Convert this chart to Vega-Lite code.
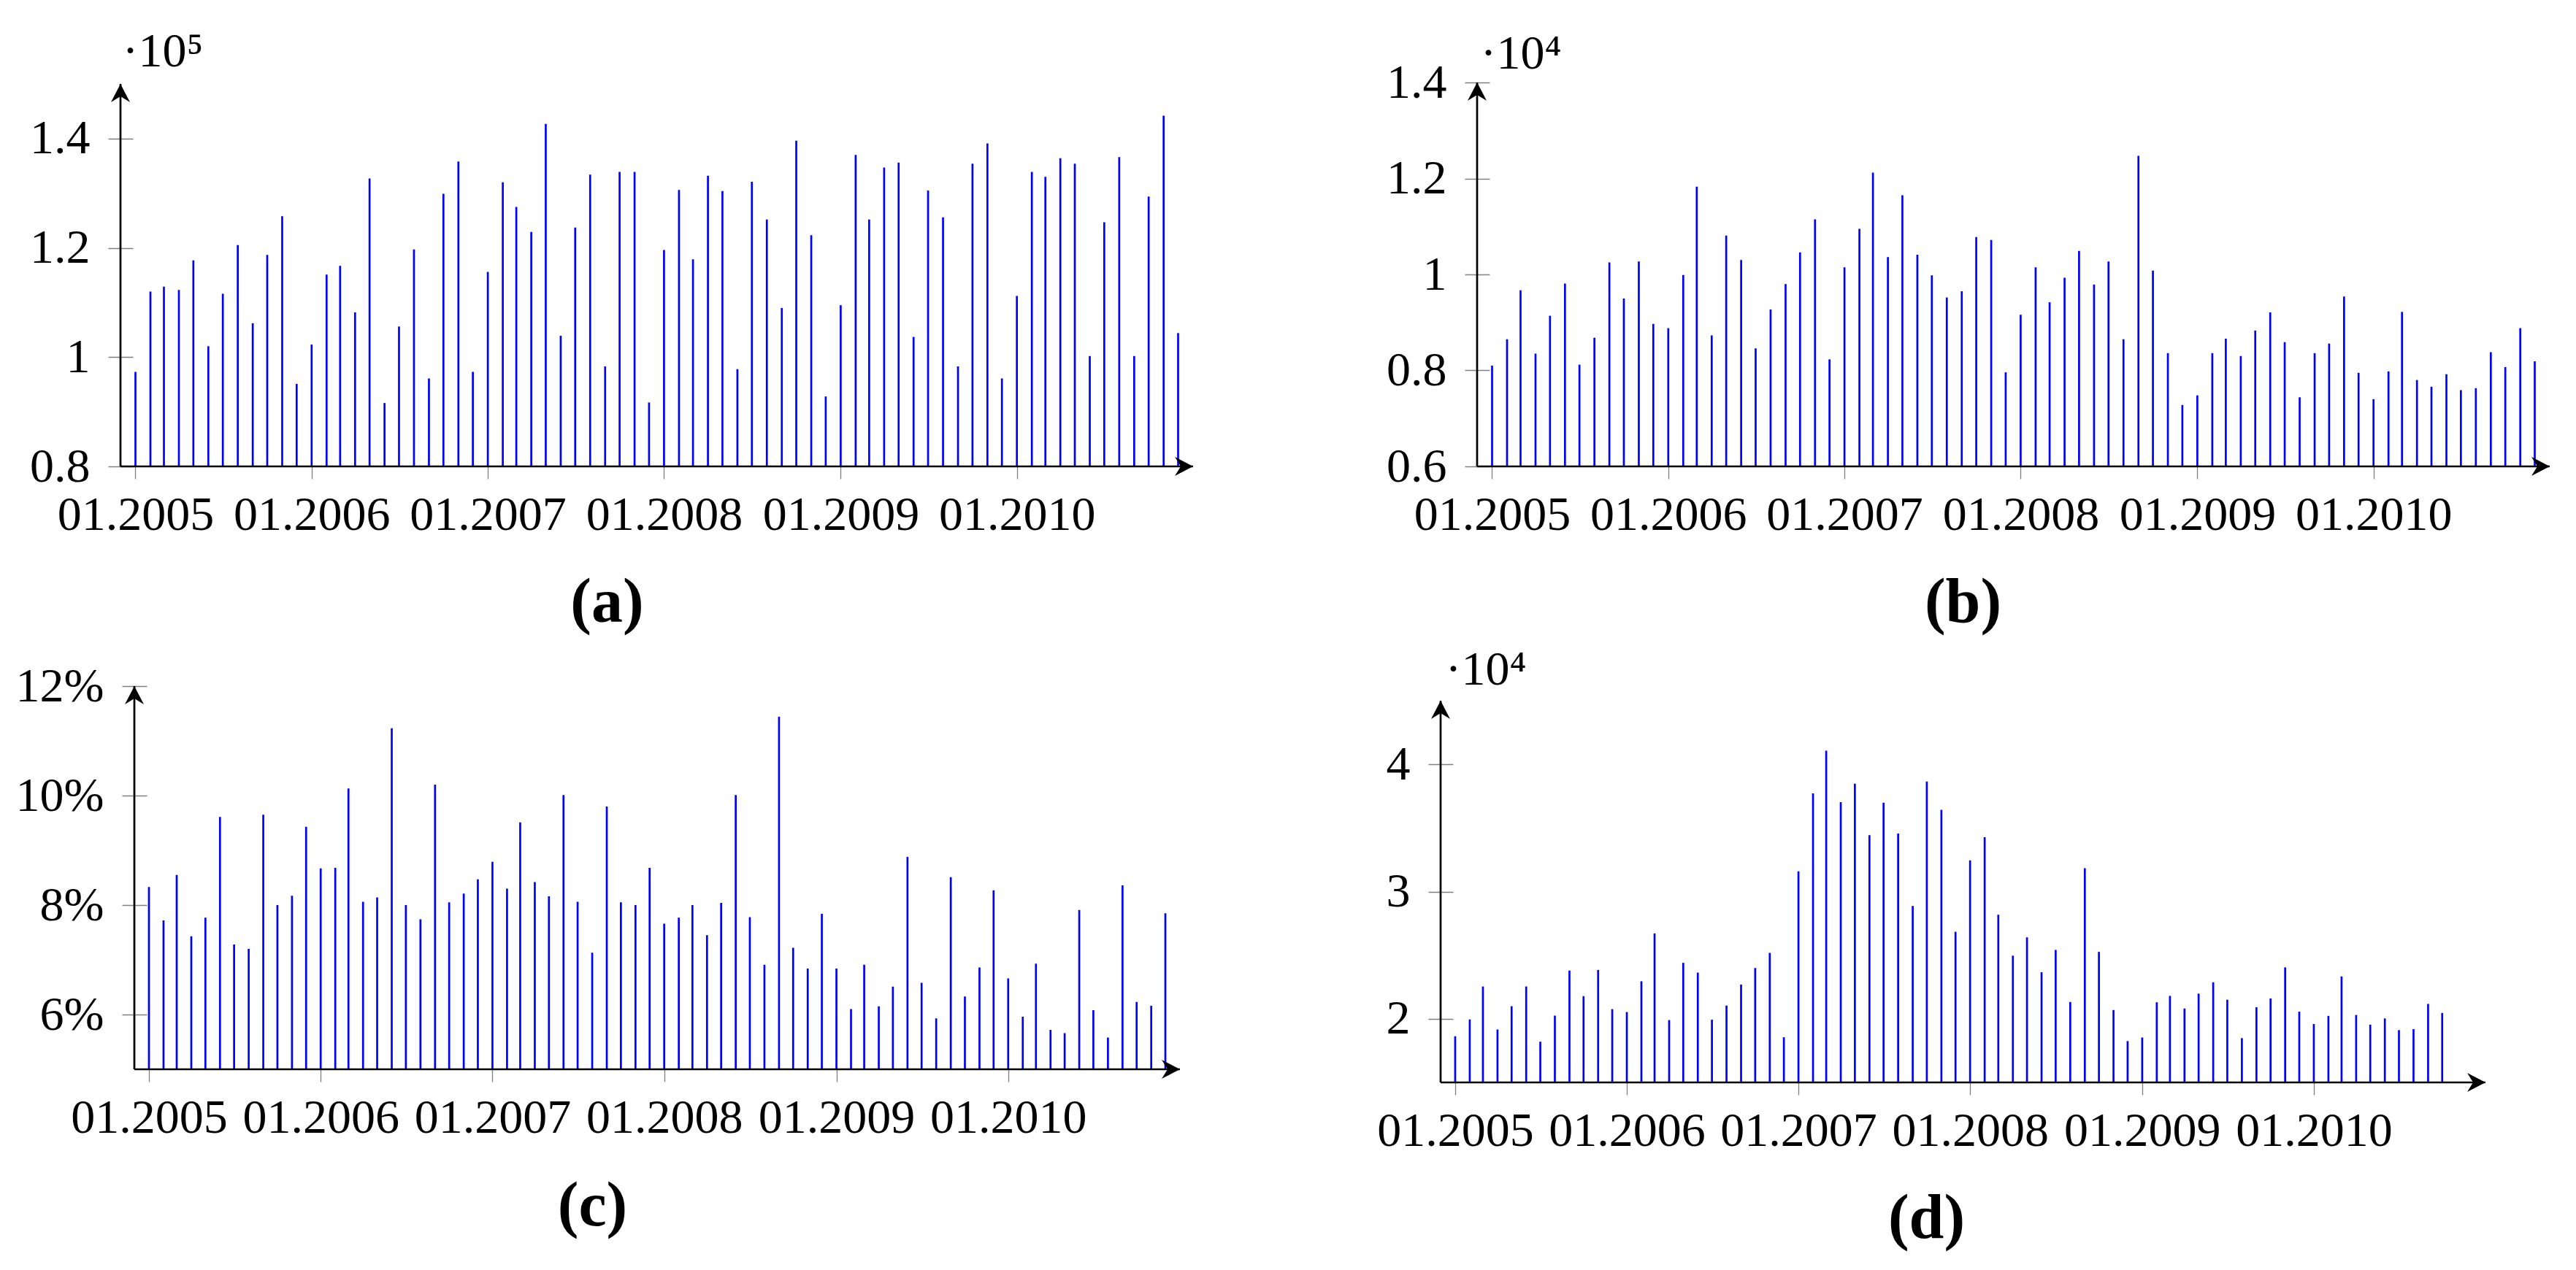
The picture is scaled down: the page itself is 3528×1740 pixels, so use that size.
{
  "$schema": "https://vega.github.io/schema/vega-lite/v6.json",
  "background": "white",
  "padding": {"left": 21, "top": 37, "right": 10, "bottom": 10},
  "data": {"values": [
    {"date": "2005-01-01", "a": 0.973, "b": 0.810, "c": 8.33, "d": 1.863},
    {"date": "2005-02-01", "a": 1.120, "b": 0.865, "c": 7.72, "d": 1.995},
    {"date": "2005-03-01", "a": 1.129, "b": 0.967, "c": 8.55, "d": 2.254},
    {"date": "2005-04-01", "a": 1.123, "b": 0.835, "c": 7.43, "d": 1.916},
    {"date": "2005-05-01", "a": 1.177, "b": 0.914, "c": 7.77, "d": 2.099},
    {"date": "2005-06-01", "a": 1.020, "b": 0.981, "c": 9.61, "d": 2.254},
    {"date": "2005-07-01", "a": 1.116, "b": 0.812, "c": 7.28, "d": 1.820},
    {"date": "2005-08-01", "a": 1.205, "b": 0.868, "c": 7.20, "d": 2.025},
    {"date": "2005-09-01", "a": 1.062, "b": 1.025, "c": 9.65, "d": 2.379},
    {"date": "2005-10-01", "a": 1.187, "b": 0.950, "c": 8.00, "d": 2.178},
    {"date": "2005-11-01", "a": 1.258, "b": 1.027, "c": 8.17, "d": 2.384},
    {"date": "2005-12-01", "a": 0.951, "b": 0.897, "c": 9.43, "d": 2.076},
    {"date": "2006-01-01", "a": 1.023, "b": 0.888, "c": 8.67, "d": 2.053},
    {"date": "2006-02-01", "a": 1.151, "b": 0.999, "c": 8.68, "d": 2.295},
    {"date": "2006-03-01", "a": 1.167, "b": 1.183, "c": 10.13, "d": 2.671},
    {"date": "2006-04-01", "a": 1.082, "b": 0.873, "c": 8.06, "d": 1.990},
    {"date": "2006-05-01", "a": 1.327, "b": 1.081, "c": 8.14, "d": 2.440},
    {"date": "2006-06-01", "a": 0.916, "b": 1.030, "c": 11.23, "d": 2.363},
    {"date": "2006-07-01", "a": 1.056, "b": 0.846, "c": 8.00, "d": 1.993},
    {"date": "2006-08-01", "a": 1.197, "b": 0.927, "c": 7.74, "d": 2.104},
    {"date": "2006-09-01", "a": 0.961, "b": 0.980, "c": 10.20, "d": 2.269},
    {"date": "2006-10-01", "a": 1.299, "b": 1.046, "c": 8.05, "d": 2.399},
    {"date": "2006-11-01", "a": 1.358, "b": 1.115, "c": 8.21, "d": 2.518},
    {"date": "2006-12-01", "a": 0.973, "b": 0.823, "c": 8.47, "d": 1.855},
    {"date": "2007-01-01", "a": 1.156, "b": 1.015, "c": 8.79, "d": 3.159},
    {"date": "2007-02-01", "a": 1.320, "b": 1.095, "c": 8.30, "d": 3.771},
    {"date": "2007-03-01", "a": 1.275, "b": 1.212, "c": 9.51, "d": 4.107},
    {"date": "2007-04-01", "a": 1.229, "b": 1.036, "c": 8.42, "d": 3.703},
    {"date": "2007-05-01", "a": 1.427, "b": 1.165, "c": 8.16, "d": 3.848},
    {"date": "2007-06-01", "a": 1.039, "b": 1.041, "c": 10.01, "d": 3.443},
    {"date": "2007-07-01", "a": 1.237, "b": 0.998, "c": 8.06, "d": 3.698},
    {"date": "2007-08-01", "a": 1.334, "b": 0.952, "c": 7.13, "d": 3.456},
    {"date": "2007-09-01", "a": 0.983, "b": 0.965, "c": 9.80, "d": 2.887},
    {"date": "2007-10-01", "a": 1.339, "b": 1.078, "c": 8.05, "d": 3.865},
    {"date": "2007-11-01", "a": 1.339, "b": 1.072, "c": 8.00, "d": 3.642},
    {"date": "2007-12-01", "a": 0.917, "b": 0.796, "c": 8.68, "d": 2.684},
    {"date": "2008-01-01", "a": 1.196, "b": 0.916, "c": 7.66, "d": 3.245},
    {"date": "2008-02-01", "a": 1.306, "b": 1.015, "c": 7.77, "d": 3.428},
    {"date": "2008-03-01", "a": 1.179, "b": 0.942, "c": 8.00, "d": 2.818},
    {"date": "2008-04-01", "a": 1.332, "b": 0.993, "c": 7.45, "d": 2.496},
    {"date": "2008-05-01", "a": 1.304, "b": 1.049, "c": 8.04, "d": 2.640},
    {"date": "2008-06-01", "a": 0.978, "b": 0.979, "c": 10.01, "d": 2.366},
    {"date": "2008-07-01", "a": 1.321, "b": 1.027, "c": 7.78, "d": 2.541},
    {"date": "2008-08-01", "a": 1.252, "b": 0.865, "c": 6.91, "d": 2.132},
    {"date": "2008-09-01", "a": 1.090, "b": 1.247, "c": 11.44, "d": 3.184},
    {"date": "2008-10-01", "a": 1.396, "b": 1.008, "c": 7.22, "d": 2.526},
    {"date": "2008-11-01", "a": 1.223, "b": 0.836, "c": 6.84, "d": 2.069},
    {"date": "2008-12-01", "a": 0.928, "b": 0.728, "c": 7.84, "d": 1.825},
    {"date": "2009-01-01", "a": 1.095, "b": 0.748, "c": 6.84, "d": 1.853},
    {"date": "2009-02-01", "a": 1.370, "b": 0.836, "c": 6.10, "d": 2.130},
    {"date": "2009-03-01", "a": 1.252, "b": 0.866, "c": 6.91, "d": 2.180},
    {"date": "2009-04-01", "a": 1.347, "b": 0.830, "c": 6.15, "d": 2.081},
    {"date": "2009-05-01", "a": 1.356, "b": 0.883, "c": 6.51, "d": 2.198},
    {"date": "2009-06-01", "a": 1.037, "b": 0.921, "c": 8.88, "d": 2.287},
    {"date": "2009-07-01", "a": 1.305, "b": 0.859, "c": 6.58, "d": 2.150},
    {"date": "2009-08-01", "a": 1.256, "b": 0.744, "c": 5.93, "d": 1.848},
    {"date": "2009-09-01", "a": 0.983, "b": 0.836, "c": 8.51, "d": 2.091},
    {"date": "2009-10-01", "a": 1.354, "b": 0.856, "c": 6.33, "d": 2.160},
    {"date": "2009-11-01", "a": 1.391, "b": 0.954, "c": 6.86, "d": 2.404},
    {"date": "2009-12-01", "a": 0.961, "b": 0.795, "c": 8.27, "d": 2.056},
    {"date": "2010-01-01", "a": 1.112, "b": 0.740, "c": 6.66, "d": 1.959},
    {"date": "2010-02-01", "a": 1.339, "b": 0.798, "c": 5.96, "d": 2.023},
    {"date": "2010-03-01", "a": 1.330, "b": 0.922, "c": 6.93, "d": 2.333},
    {"date": "2010-04-01", "a": 1.364, "b": 0.780, "c": 5.72, "d": 2.030},
    {"date": "2010-05-01", "a": 1.354, "b": 0.766, "c": 5.66, "d": 1.954},
    {"date": "2010-06-01", "a": 1.002, "b": 0.792, "c": 7.91, "d": 2.003},
    {"date": "2010-07-01", "a": 1.247, "b": 0.759, "c": 6.08, "d": 1.911},
    {"date": "2010-08-01", "a": 1.366, "b": 0.763, "c": 5.58, "d": 1.919},
    {"date": "2010-09-01", "a": 1.002, "b": 0.838, "c": 8.36, "d": 2.117},
    {"date": "2010-10-01", "a": 1.294, "b": 0.807, "c": 6.23, "d": 2.046},
    {"date": "2010-11-01", "a": 1.442, "b": 0.888, "c": 6.16, "d": null},
    {"date": "2010-12-01", "a": 1.044, "b": 0.819, "c": 7.85, "d": null}
  ]},
  "columns": 2,
  "align": "each",
  "bounds": "flush",
  "spacing": {"row": 301, "column": 339},
  "concat": [
    {
      "width": 1469, "height": 526,
      "layer": [
        {
          "mark": {"type": "rule", "color": "#0000ff", "strokeWidth": 2.7},
          "encoding": {
            "x": {"field": "date", "type": "temporal",
              "scale": {"type": "utc", "nice": false, "domain": [{"year": 2004, "month": 12, "date": 1, "utc": true}, {"year": 2011, "month": 1, "date": 1, "utc": true}]},
              "axis": {"values": [{"year": 2005, "month": 1, "date": 1, "utc": true}, {"year": 2006, "month": 1, "date": 1, "utc": true}, {"year": 2007, "month": 1, "date": 1, "utc": true}, {"year": 2008, "month": 1, "date": 1, "utc": true}, {"year": 2009, "month": 1, "date": 1, "utc": true}, {"year": 2010, "month": 1, "date": 1, "utc": true}],
                "format": "%m.%Y", "title": "(a)", "titleX": 666, "titleY": 212}},
            "y": {"field": "a", "type": "quantitative",
              "scale": {"domain": [0.8, 1.5], "nice": false, "zero": false, "range": [526, 2]},
              "axis": {"values": [0.8, 1, 1.2, 1.4], "format": "~g", "offset": -17, "title": "·10⁵", "titleX": -15, "titleY": -23}},
            "y2": {"datum": 0.8}
          }
        },
        {
          "data": {"values": [{}]},
          "mark": {"type": "rule", "color": "black", "strokeWidth": 2.7},
          "encoding": {
            "x": {"datum": {"year": 2004, "month": 12, "date": 1, "utc": true}, "type": "temporal"},
            "y": {"datum": 0.8}, "y2": {"datum": 1.5}
          }
        },
        {
          "data": {"values": [{}]},
          "mark": {"type": "rule", "color": "black", "strokeWidth": 2.7},
          "encoding": {
            "x": {"datum": {"year": 2004, "month": 12, "date": 1, "utc": true}, "type": "temporal"},
            "x2": {"datum": {"year": 2011, "month": 1, "date": 1, "utc": true}},
            "y": {"datum": 0.8}
          }
        },
        {
          "data": {"values": [{}]},
          "mark": {"type": "point", "shape": "M0,0 L0.5,0.96 L0,0.65 L-0.5,0.96 Z", "filled": true, "color": "black", "opacity": 1, "size": 2704, "strokeWidth": 0},
          "encoding": {
            "x": {"datum": {"year": 2004, "month": 12, "date": 1, "utc": true}, "type": "temporal"},
            "y": {"datum": 1.5}
          }
        },
        {
          "data": {"values": [{}]},
          "mark": {"type": "point", "shape": "M0,0 L-0.96,-0.5 L-0.65,0 L-0.96,0.5 Z", "filled": true, "color": "black", "opacity": 1, "size": 2704, "strokeWidth": 0},
          "encoding": {
            "x": {"datum": {"year": 2011, "month": 1, "date": 1, "utc": true}, "type": "temporal"},
            "y": {"datum": 0.8}
          }
        }
      ]
    },
    {
      "width": 1519, "height": 526,
      "layer": [
        {
          "mark": {"type": "rule", "color": "#0000ff", "strokeWidth": 2.7},
          "encoding": {
            "x": {"field": "date", "type": "temporal",
              "scale": {"type": "utc", "nice": false, "domain": [{"year": 2004, "month": 12, "date": 1, "utc": true}, {"year": 2011, "month": 1, "date": 1, "utc": true}], "range": [50, 1519]},
              "axis": {"values": [{"year": 2005, "month": 1, "date": 1, "utc": true}, {"year": 2006, "month": 1, "date": 1, "utc": true}, {"year": 2007, "month": 1, "date": 1, "utc": true}, {"year": 2008, "month": 1, "date": 1, "utc": true}, {"year": 2009, "month": 1, "date": 1, "utc": true}, {"year": 2010, "month": 1, "date": 1, "utc": true}],
                "format": "%m.%Y", "title": "(b)", "titleX": 715, "titleY": 212}},
            "y": {"field": "b", "type": "quantitative",
              "scale": {"domain": [0.6, 1.4], "nice": false, "zero": false},
              "axis": {"values": [0.6, 0.8, 1, 1.2, 1.4], "format": "~g", "offset": -67, "title": "·10⁴", "titleX": -13, "titleY": -20}},
            "y2": {"datum": 0.6}
          }
        },
        {
          "data": {"values": [{}]},
          "mark": {"type": "rule", "color": "black", "strokeWidth": 2.7},
          "encoding": {
            "x": {"datum": {"year": 2004, "month": 12, "date": 1, "utc": true}, "type": "temporal"},
            "y": {"datum": 0.6}, "y2": {"datum": 1.4}
          }
        },
        {
          "data": {"values": [{}]},
          "mark": {"type": "rule", "color": "black", "strokeWidth": 2.7},
          "encoding": {
            "x": {"datum": {"year": 2004, "month": 12, "date": 1, "utc": true}, "type": "temporal"},
            "x2": {"datum": {"year": 2011, "month": 1, "date": 1, "utc": true}},
            "y": {"datum": 0.6}
          }
        },
        {
          "data": {"values": [{}]},
          "mark": {"type": "point", "shape": "M0,0 L0.5,0.96 L0,0.65 L-0.5,0.96 Z", "filled": true, "color": "black", "opacity": 1, "size": 2704, "strokeWidth": 0},
          "encoding": {
            "x": {"datum": {"year": 2004, "month": 12, "date": 1, "utc": true}, "type": "temporal"},
            "y": {"datum": 1.4}
          }
        },
        {
          "data": {"values": [{}]},
          "mark": {"type": "point", "shape": "M0,0 L-0.96,-0.5 L-0.65,0 L-0.96,0.5 Z", "filled": true, "color": "black", "opacity": 1, "size": 2704, "strokeWidth": 0},
          "encoding": {
            "x": {"datum": {"year": 2011, "month": 1, "date": 1, "utc": true}, "type": "temporal"},
            "y": {"datum": 0.6}
          }
        }
      ]
    },
    {
      "width": 1451, "height": 525,
      "layer": [
        {
          "mark": {"type": "rule", "color": "#0000ff", "strokeWidth": 2.7},
          "encoding": {
            "x": {"field": "date", "type": "temporal",
              "scale": {"type": "utc", "nice": false, "domain": [{"year": 2004, "month": 12, "date": 1, "utc": true}, {"year": 2011, "month": 1, "date": 1, "utc": true}], "range": [19, 1451]},
              "axis": {"values": [{"year": 2005, "month": 1, "date": 1, "utc": true}, {"year": 2006, "month": 1, "date": 1, "utc": true}, {"year": 2007, "month": 1, "date": 1, "utc": true}, {"year": 2008, "month": 1, "date": 1, "utc": true}, {"year": 2009, "month": 1, "date": 1, "utc": true}, {"year": 2010, "month": 1, "date": 1, "utc": true}],
                "format": "%m.%Y", "title": "(c)", "titleX": 646, "titleY": 213}},
            "y": {"field": "c", "type": "quantitative",
              "scale": {"domain": [5, 12], "nice": false, "zero": false},
              "axis": {"values": [6, 8, 10, 12], "labelExpr": "datum.value + '%'", "offset": -36, "title": null}},
            "y2": {"datum": 5}
          }
        },
        {
          "data": {"values": [{}]},
          "mark": {"type": "rule", "color": "black", "strokeWidth": 2.7},
          "encoding": {
            "x": {"datum": {"year": 2004, "month": 12, "date": 1, "utc": true}, "type": "temporal"},
            "y": {"datum": 5}, "y2": {"datum": 12}
          }
        },
        {
          "data": {"values": [{}]},
          "mark": {"type": "rule", "color": "black", "strokeWidth": 2.7},
          "encoding": {
            "x": {"datum": {"year": 2004, "month": 12, "date": 1, "utc": true}, "type": "temporal"},
            "x2": {"datum": {"year": 2011, "month": 1, "date": 1, "utc": true}},
            "y": {"datum": 5}
          }
        },
        {
          "data": {"values": [{}]},
          "mark": {"type": "point", "shape": "M0,0 L0.5,0.96 L0,0.65 L-0.5,0.96 Z", "filled": true, "color": "black", "opacity": 1, "size": 2704, "strokeWidth": 0},
          "encoding": {
            "x": {"datum": {"year": 2004, "month": 12, "date": 1, "utc": true}, "type": "temporal"},
            "y": {"datum": 12}
          }
        },
        {
          "data": {"values": [{}]},
          "mark": {"type": "point", "shape": "M0,0 L-0.96,-0.5 L-0.65,0 L-0.96,0.5 Z", "filled": true, "color": "black", "opacity": 1, "size": 2704, "strokeWidth": 0},
          "encoding": {
            "x": {"datum": {"year": 2011, "month": 1, "date": 1, "utc": true}, "type": "temporal"},
            "y": {"datum": 5}
          }
        }
      ]
    },
    {
      "width": 1431, "height": 543,
      "layer": [
        {
          "mark": {"type": "rule", "color": "#0000ff", "strokeWidth": 2.7},
          "encoding": {
            "x": {"field": "date", "type": "temporal",
              "scale": {"type": "utc", "nice": false, "domain": [{"year": 2004, "month": 12, "date": 1, "utc": true}, {"year": 2011, "month": 1, "date": 1, "utc": true}]},
              "axis": {"values": [{"year": 2005, "month": 1, "date": 1, "utc": true}, {"year": 2006, "month": 1, "date": 1, "utc": true}, {"year": 2007, "month": 1, "date": 1, "utc": true}, {"year": 2008, "month": 1, "date": 1, "utc": true}, {"year": 2009, "month": 1, "date": 1, "utc": true}, {"year": 2010, "month": 1, "date": 1, "utc": true}],
                "format": "%m.%Y", "title": "(d)", "titleX": 665, "titleY": 212}},
            "y": {"field": "d", "type": "quantitative",
              "scale": {"domain": [1.5, 4.5], "nice": false, "zero": false, "range": [543, 20]},
              "axis": {"values": [2, 3, 4], "format": "~g", "offset": -17, "title": "·10⁴", "titleX": -11, "titleY": -3}},
            "y2": {"datum": 1.5}
          }
        },
        {
          "data": {"values": [{}]},
          "mark": {"type": "rule", "color": "black", "strokeWidth": 2.7},
          "encoding": {
            "x": {"datum": {"year": 2004, "month": 12, "date": 1, "utc": true}, "type": "temporal"},
            "y": {"datum": 1.5}, "y2": {"datum": 4.5}
          }
        },
        {
          "data": {"values": [{}]},
          "mark": {"type": "rule", "color": "black", "strokeWidth": 2.7},
          "encoding": {
            "x": {"datum": {"year": 2004, "month": 12, "date": 1, "utc": true}, "type": "temporal"},
            "x2": {"datum": {"year": 2011, "month": 1, "date": 1, "utc": true}},
            "y": {"datum": 1.5}
          }
        },
        {
          "data": {"values": [{}]},
          "mark": {"type": "point", "shape": "M0,0 L0.5,0.96 L0,0.65 L-0.5,0.96 Z", "filled": true, "color": "black", "opacity": 1, "size": 2704, "strokeWidth": 0},
          "encoding": {
            "x": {"datum": {"year": 2004, "month": 12, "date": 1, "utc": true}, "type": "temporal"},
            "y": {"datum": 4.5}
          }
        },
        {
          "data": {"values": [{}]},
          "mark": {"type": "point", "shape": "M0,0 L-0.96,-0.5 L-0.65,0 L-0.96,0.5 Z", "filled": true, "color": "black", "opacity": 1, "size": 2704, "strokeWidth": 0},
          "encoding": {
            "x": {"datum": {"year": 2011, "month": 1, "date": 1, "utc": true}, "type": "temporal"},
            "y": {"datum": 1.5}
          }
        }
      ]
    }
  ],
  "config": {
    "view": {"stroke": null},
    "font": "Liberation Serif",
    "axis": {
      "labelFont": "Liberation Serif", "labelFontSize": 66, "labelColor": "#000000", "labelLimit": 0,
      "tickColor": "#808080", "tickWidth": 1.3,
      "domain": false, "grid": false, "labelFlush": false, "labelOverlap": false,
      "titleFont": "Liberation Serif", "titleColor": "#000000", "titleAngle": 0, "titleLimit": 0,
      "titleBaseline": "alphabetic", "titlePadding": 0
    },
    "axisX": {"tickSize": 17, "labelPadding": 17.5, "titleFontSize": 86, "titleFontWeight": "bold", "titleAlign": "center"},
    "axisY": {"tickSize": 34, "labelPadding": 25, "titleFontSize": 66, "titleFontWeight": "normal", "titleAlign": "left"}
  }
}
